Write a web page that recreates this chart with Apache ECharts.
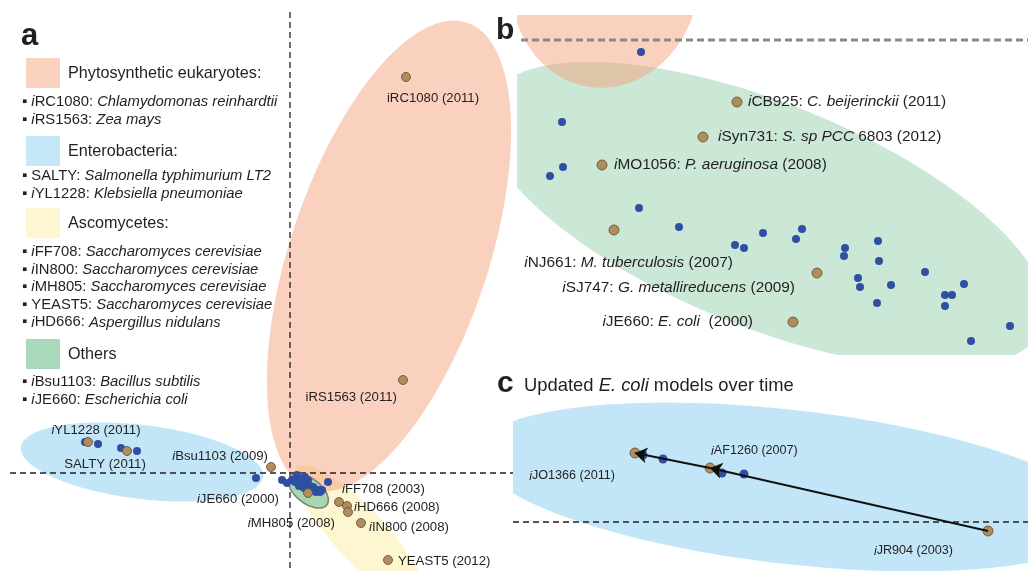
<!DOCTYPE html>
<html><head><meta charset="utf-8">
<script src="https://cdn.jsdelivr.net/npm/echarts@6/dist/echarts.min.js"></script>
<style>html,body{margin:0;padding:0;background:#fff}#c{width:1028px;height:571px}</style>
</head><body><div id="c"></div>
<script>
// ---------- DATA ----------
// Panel a (arbitrary projection units)
const aBrownLabels = ['iRC1080 (2011)','iRS1563 (2011)','{i|i}YL1228 (2011)','SALTY (2011)','{i|i}Bsu1103 (2009)','{i|i}JE660 (2000)','{i|i}FF708 (2003)','{i|i}HD666 (2008)','{i|i}MH805 (2008)','{i|i}IN800 (2008)','YEAST5 (2012)'];
const aBrownX = [11.6, 11.3, -20.2, -16.3, -1.9, 1.8, 4.9, 5.7, 5.8, 7.1, 9.8];
const aBrownY = [39.6, 9.3, 3.1, 2.2, 0.6, -2.0, -2.9, -3.3, -3.9, -5.0, -8.7];
const aBlueX = [-20.5,-19.2,-16.9,-15.3,-3.4,-0.8,-0.3,3.8,0.2,0.7,1.0,0.5,1.2,1.5,1.8,1.7,2.0,2.3,2.5,2.8,3.0,2.6,3.2,0.9,1.4];
const aBlueY = [3.1,2.9,2.5,2.2,-0.5,-0.7,-1.0,-0.9,-0.7,-0.2,-0.6,-0.9,-1.1,-0.4,-0.7,-1.1,-1.3,-1.4,-1.6,-1.7,-1.9,-1.9,-1.7,-1.3,-1.5];
// group ellipses: [cx, cy, semiMajor, semiMinor, angleDeg]
const aGroupNames = ['Enterobacteria','Ascomycetes','Phytosynthetic eukaryotes','Others'];
const aEllipses = [[-14.8,1.1,12.2,3.7,-7],[7.1,-6.3,9.4,2.6,-47],[9.9,21.7,24.6,9.9,71.5],[1.85,-1.8,2.3,1.25,-37]];

// Panel b
const bBrownLabels = ['{i|i}CB925: {i|C. beijerinckii} (2011)','{i|i}Syn731: {i|S. sp PCC} 6803 (2012)','{i|i}MO1056: {i|P. aeruginosa} (2008)','{i|i}NJ661: {i|M. tuberculosis} (2007)','{i|i}SJ747: {i|G. metallireducens} (2009)','{i|i}JE660: {i|E. coli}  (2000)'];
const bBrownX = [22.0, 18.6, 8.5, 9.7, 30.0, 27.6];
const bBrownY = [-6.2, -9.7, -12.5, -19.0, -23.3, -28.2];
const bBlueX = [12.4,4.5,4.6,3.3,12.2,16.2,24.6,28.5,27.9,21.8,22.7,32.8,32.7,36.1,36.2,40.8,34.1,34.3,37.4,44.7,42.8,43.5,42.8,36.0,49.3,45.4];
const bBlueY = [-1.2,-8.2,-12.7,-13.6,-16.8,-18.7,-19.3,-18.9,-19.9,-20.5,-20.8,-20.8,-21.6,-20.1,-22.1,-23.2,-23.8,-24.7,-24.5,-24.4,-25.5,-25.5,-26.6,-26.3,-28.6,-30.1];
const bEllipses = [[24.8,-17.5,30.0,11.2,-22],[8.8,6.0,10.8,9.4,82]];

// Panel c: E. coli models over time
const cBrownLabels = ['{i|i}JR904 (2003)','{i|i}AF1260 (2007)','{i|i}JO1366 (2011)'];
const cBrownX = [47.5, 19.7, 12.2];
const cBrownY = [-0.9, 5.4, 6.9];
const cBlueX = [13.0, 15.0, 20.9, 23.1];
const cBlueY = [6.7, 6.3, 4.9, 4.8];
const cEllipses = [[27.7,3.5,31.5,7.7,-6.5]];

// Legend text
const groupTitles = ['Phytosynthetic eukaryotes:','Enterobacteria:','Ascomycetes:','Others'];
const groupItems = [
  ['{i|i}RC1080: {i|Chlamydomonas reinhardtii}','{i|i}RS1563: {i|Zea mays}'],
  ['SALTY: {i|Salmonella typhimurium LT2}','{i|i}YL1228: {i|Klebsiella pneumoniae}'],
  ['{i|i}FF708: {i|Saccharomyces cerevisiae}','{i|i}IN800: {i|Saccharomyces cerevisiae}','{i|i}MH805: {i|Saccharomyces cerevisiae}','YEAST5: {i|Saccharomyces cerevisiae}','{i|i}HD666: {i|Aspergillus nidulans}'],
  ['{i|i}Bsu1103: {i|Bacillus subtilis}','{i|i}JE660: {i|Escherichia coli}']
];
const panelTitleC = ['Updated ', '{i|E. coli}', ' models over time'];

// ---------- STYLE / LAYOUT ----------
const FONT = "'Liberation Sans', Arial, Helvetica, sans-serif";
const TXT = '#231f20';
const BLUE = '#2f4fa5', BROWN = '#b08d5c', BROWN_B = '#5e4a2e';
const aEllipseStyle = [
  {fill:'rgba(120,200,240,0.45)'},
  {fill:'rgba(250,235,140,0.40)'},
  {fill:'rgba(243,150,110,0.45)'},
  {fill:'#a6d7b0', stroke:'#808080', lineWidth:1.6}
];
const bEllipseStyle = [{fill:'rgba(130,200,160,0.42)'},{fill:'rgba(243,150,110,0.45)'}];
const cEllipseStyle = [{fill:'rgba(120,200,240,0.45)'}];
// label placement: [align, dx, dy]
const aPlace = [['center',27,21],['right',-6,17],['center',8,-12],['center',-22,13],['right',-3,-11],['right',-29,6],['left',3,-13],['left',7,1],['right',-13,11],['left',8,4],['left',10,1]];
const bPlace = [['left',11,0],['left',15,0],['left',12,0],['right',119,33],['right',-22,15],['right',-40,0]];
const cPlace = [['right',-35,20],['left',1,-17],['right',-20,23]];
const swatchColors = ['#f9d1be','#c5e8f8','#fdf6d0','#a9d8ba'];
const swatchY = [58,136,208,339];
const itemY0 = [102,176,252,382];

// ---------- HELPERS ----------
function ellipseSeries(data, styles, idx, z) {
  return {
    type:'custom', xAxisIndex:idx, yAxisIndex:idx, clip:true, z:z, silent:true,
    data:data,
    renderItem:function(params, api){
      const cx=api.value(0), cy=api.value(1), a=api.value(2), b=api.value(3), ang=api.value(4)*Math.PI/180;
      const pts=[];
      for(let k=0;k<144;k++){
        const t=2*Math.PI*k/144, ex=a*Math.cos(t), ey=b*Math.sin(t);
        pts.push(api.coord([cx+ex*Math.cos(ang)-ey*Math.sin(ang), cy+ex*Math.sin(ang)+ey*Math.cos(ang)]));
      }
      const s=styles[params.dataIndex];
      return {type:'polygon', shape:{points:pts}, style:{fill:s.fill, stroke:s.stroke||null, lineWidth:s.lineWidth||0}};
    }
  };
}
function pts(xs, ys, labels, places, fs) {
  return xs.map(function(x,i){
    const it={value:[x, ys[i]]};
    if(labels && labels[i]){
      const p=places[i];
      it.label={show:true, position:'inside', align:p[0], verticalAlign:'middle', offset:[p[1],p[2]],
        formatter:labels[i], fontSize:fs, fontFamily:FONT, color:TXT,
        rich:{i:{fontStyle:'italic', fontSize:fs, fontFamily:FONT, color:TXT}}};
    }
    return it;
  });
}
function scatter(data, idx, color, border, size, z) {
  return {type:'scatter', xAxisIndex:idx, yAxisIndex:idx, symbolSize:size, z:z, silent:true, data:data,
    itemStyle:{color:color, borderColor:border||color, borderWidth:border?0.8:0, opacity:1}};
}
function dashLine(coords, idx, color, width, dash, z) {
  return {type:'line', xAxisIndex:idx, yAxisIndex:idx, data:coords, showSymbol:false, silent:true, z:z,
    lineStyle:{color:color, width:width, type:dash}};
}

// ---------- LEGEND GRAPHICS ----------
const graphics = [];
graphics.push({type:'text', left:21, top:21, style:{text:'a', fontSize:31, fontWeight:'bold', fontFamily:FONT, fill:TXT}});
graphics.push({type:'text', x:496, y:31, style:{text:'b', fontSize:30, fontWeight:'bold', fontFamily:FONT, fill:TXT, verticalAlign:'middle'}});
graphics.push({type:'text', x:497, y:384, style:{text:'c', fontSize:30, fontWeight:'bold', fontFamily:FONT, fill:TXT, verticalAlign:'middle'}});
graphics.push({type:'text', x:524, y:386, style:{text:panelTitleC.join(''), fontSize:18.4, fontFamily:FONT, fill:TXT, verticalAlign:'middle',
  rich:{i:{fontStyle:'italic', fontSize:18.4, fontFamily:FONT, fill:TXT}}}});
groupTitles.forEach(function(t,g){
  graphics.push({type:'rect', shape:{x:26, y:swatchY[g], width:34, height:30}, style:{fill:swatchColors[g]}});
  graphics.push({type:'text', x:68, y:swatchY[g]+16, style:{text:t, fontSize:16.2, fontFamily:FONT, fill:TXT, verticalAlign:'middle'}});
  groupItems[g].forEach(function(s,k){
    graphics.push({type:'text', x:22, y:itemY0[g]+k*17.6, style:{text:'▪ '+s, fontSize:14.8, fontFamily:FONT, fill:TXT, verticalAlign:'middle',
      rich:{i:{fontStyle:'italic', fontSize:14.8, fontFamily:FONT, fill:TXT}}}});
  });
});

// ---------- OPTION ----------
const ax = function(idx,min,max){return {gridIndex:idx, type:'value', min:min, max:max, show:false};};
const option = {
  animation:false,
  grid:[
    {left:0, top:0, width:515, height:571},
    {left:517, top:15, width:511, height:340},
    {left:513, top:395, width:515, height:176}
  ],
  xAxis:[ax(0,-29,22.5), ax(1,0,51.1), ax(2,0,51.5)],
  yAxis:[ax(0,-9.8,47.3), ax(1,-31.5,2.5), ax(2,-4.9,12.7)],
  graphic:graphics,
  series:[
    ellipseSeries(aEllipses.slice(0,3), aEllipseStyle.slice(0,3), 0, 1),
    dashLine([[-28.0,0],[22.3,0]], 0, TXT, 1.3, [6,4], 2),
    dashLine([[0,46.1],[0,-9.8]], 0, TXT, 1.3, [6,4], 2),
    ellipseSeries([aEllipses[3]], [aEllipseStyle[3]], 0, 3),
    scatter(pts(aBlueX,aBlueY), 0, BLUE, null, 8, 4),
    scatter(pts(aBrownX,aBrownY,aBrownLabels,aPlace,13.2), 0, BROWN, BROWN_B, 9, 5),

    ellipseSeries(bEllipses, bEllipseStyle, 1, 1),
    dashLine([[0.4,0],[51.1,0]], 1, '#8a8a8a', 3, [7,4], 2),
    scatter(pts(bBlueX,bBlueY), 1, BLUE, null, 8, 4),
    scatter(pts(bBrownX,bBrownY,bBrownLabels,bPlace,15.4), 1, BROWN, BROWN_B, 10, 5),

    ellipseSeries(cEllipses, cEllipseStyle, 2, 1),
    dashLine([[0,0],[51.5,0]], 2, TXT, 1.3, [6,4], 2),
    scatter(pts(cBrownX,cBrownY,cBrownLabels,cPlace,12.6), 2, BROWN, BROWN_B, 10, 4),
    scatter(pts(cBlueX,cBlueY), 2, BLUE, null, 9, 4),
    {type:'lines', coordinateSystem:'cartesian2d', xAxisIndex:2, yAxisIndex:2, z:6, silent:true,
     symbol:['none','arrow'], symbolSize:12,
     lineStyle:{color:'#111', width:2, opacity:1, curveness:0},
     data:[{coords:[[cBrownX[0],cBrownY[0]],[cBrownX[1],cBrownY[1]]]},{coords:[[cBrownX[1],cBrownY[1]],[cBrownX[2],cBrownY[2]]]}]}
  ]
};
const chart = echarts.init(document.getElementById('c'), null, {renderer:'canvas'});
chart.setOption(option);
</script></body></html>
